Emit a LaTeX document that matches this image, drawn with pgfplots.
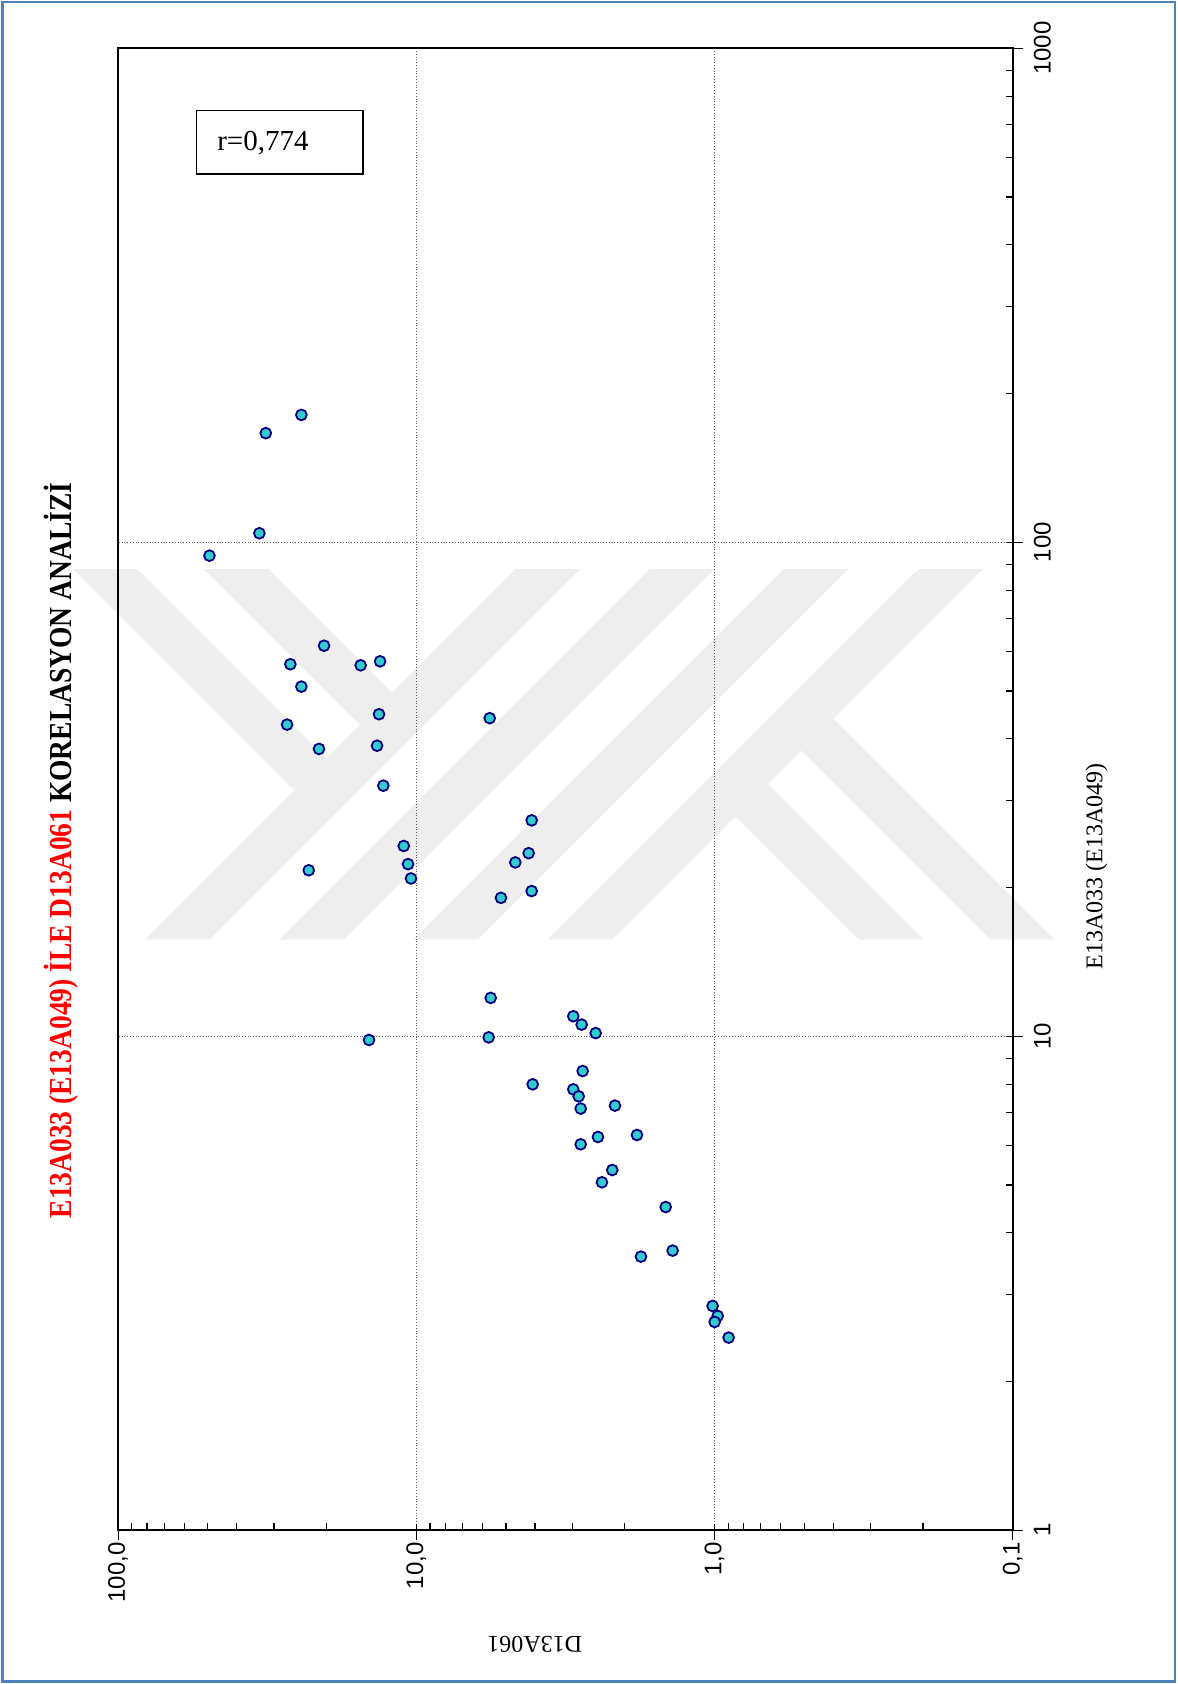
\documentclass[border=0pt]{standalone}
\usepackage{fontspec}
\setmainfont{Liberation Serif}
\newfontfamily\arialfont{Liberation Sans}
\usepackage{graphicx}
\usepackage{pgfplots}
\pgfplotsset{compat=1.18}

\definecolor{pageframe}{RGB}{79,129,189}
\definecolor{markfill}{RGB}{51,204,204}
\definecolor{markline}{RGB}{0,0,128}
\definecolor{wmgray}{RGB}{238,238,238}
\definecolor{gridgray}{RGB}{90,90,90}
\definecolor{titlered}{RGB}{255,0,0}

\begin{document}
\begin{tikzpicture}
\useasboundingbox (0,0) rectangle (588.5pt,842pt);
\draw[pageframe, line width=1.1pt] (1.2pt,1.2pt) rectangle (587.3pt,840.8pt);

% background logo: four parallel stripes with two arms on each end
\begin{scope}[shift={(0,842pt)}, x=0.53695pt, y=-0.53695pt]
  \fill[wmgray] (135,875) -- (195,875) -- (540,530) -- (480,530) -- cycle;
  \fill[wmgray] (260,875) -- (320,875) -- (665,530) -- (605,530) -- cycle;
  \fill[wmgray] (385,875) -- (445,875) -- (790,530) -- (730,530) -- cycle;
  \fill[wmgray] (510,875) -- (570,875) -- (915,530) -- (855,530) -- cycle;
  \fill[wmgray] (68,530) -- (128,530) -- (304,706) -- (274,736) -- cycle;
  \fill[wmgray] (190,530) -- (250,530) -- (365,645) -- (335,675) -- cycle;
  \fill[wmgray] (982,875) -- (922,875) -- (746,699) -- (776,669) -- cycle;
  \fill[wmgray] (860,875) -- (800,875) -- (685,760) -- (715,730) -- cycle;
\end{scope}

\begin{axis}[
  at={(59.06pt,76.85pt)}, anchor=south west,
  scale only axis, width=447.3pt, height=741.0pt,
  xmode=log, ymode=log,
  xmin=0.1, xmax=100, ymin=1, ymax=1000,
  x dir=reverse,
  axis line style={line width=1pt},
  xtick={0.1,1,10,100},
  xticklabels={{0,1},{1,0},{10,0},{100,0}},
  ytick={1,10,100,1000},
  yticklabels={1,10,100,1000},
  minor xtick={0.2,0.3,0.4,0.5,0.6,0.7,0.8,0.9,2,3,4,5,6,7,8,9,20,30,40,50,60,70,80,90},
  minor ytick={2,3,4,5,6,7,8,9,20,30,40,50,60,70,80,90,200,300,400,500,600,700,800,900},
  xtick pos=left, ytick pos=right,
  yticklabel pos=right,
  tick align=inside,
  major tick length=3pt, minor tick length=3.5pt,
  tick style={black, line width=0.6pt},
  extra x ticks={0.1,1,10,100}, extra x tick labels={},
  extra y ticks={1,10,100,1000}, extra y tick labels={},
  extra tick style={tick align=outside, major tick length=5pt, grid=none},
  grid=major,
  major grid style={gridgray, densely dotted, line width=0.5pt},
  ticklabel style={font=\arialfont\fontsize{12}{14}\selectfont},
  xticklabel style={rotate=90, anchor=east},
  yticklabel style={rotate=90, anchor=north},
  xticklabel shift=2.5pt,
  yticklabel shift=7pt,
]
\addplot[only marks, mark=*, mark size=2.7pt,
         mark options={fill=markfill, draw=markline, line width=0.9pt}]
  table[row sep=\\] {
  x y \\
  24.29 181.1 \\
  31.98 166.3 \\
  33.60 104.3 \\
  49.40 93.95 \\
  20.39 61.76 \\
  26.45 56.65 \\
  15.37 56.36 \\
  13.23 57.42 \\
  24.29 51.03 \\
  13.34 44.87 \\
  27.13 42.75 \\
  21.20 38.17 \\
  13.54 38.75 \\
  5.675 44.05 \\
  12.90 32.16 \\
  4.104 27.36 \\
  4.201 23.48 \\
  4.657 22.49 \\
  4.104 19.68 \\
  5.202 19.07 \\
  22.95 21.68 \\
  11.02 24.28 \\
  10.66 22.31 \\
  10.42 20.87 \\
  5.632 11.96 \\
  14.41 9.83 \\
  5.720 9.95 \\
  2.976 10.98 \\
  2.790 10.56 \\
  2.504 10.15 \\
  2.768 8.505 \\
  4.073 7.995 \\
  2.976 7.81 \\
  2.855 7.56 \\
  2.811 7.14 \\
  2.157 7.24 \\
  2.460 6.255 \\
  1.820 6.313 \\
  2.811 6.045 \\
  2.202 5.362 \\
  2.385 5.064 \\
  1.458 4.512 \\
  1.765 3.581 \\
  1.382 3.683 \\
  1.015 2.845 \\
  0.976 2.716 \\
  0.999 2.641 \\
  0.897 2.455 \\
};
\end{axis}

% titles, axis names and the correlation box
\begin{scope}[shift={(0,842pt)}, x=0.53695pt, y=-0.53695pt]
  \node[rotate=90, inner sep=0pt] at (57,792)
    {\resizebox{367.8pt}{\height}{\bfseries\fontsize{16}{19}\selectfont\textcolor{titlered}{E13A033 (E13A049) İLE D13A061} KORELASYON ANALİZİ}};
  \node[rotate=90, inner sep=0pt, font=\fontsize{12}{14}\selectfont] at (1021,807) {E13A033 (E13A049)};
  \node[rotate=180, inner sep=0pt, font=\fontsize{12}{14}\selectfont] at (498,1531) {D13A061};
  \draw[black, line width=0.8pt] (183,103) rectangle (338,162);
  \node[anchor=base west, inner sep=0pt, font=\fontsize{14.5}{17}\selectfont] at (202,140) {r=0,774};
\end{scope}
\end{tikzpicture}
\end{document}
